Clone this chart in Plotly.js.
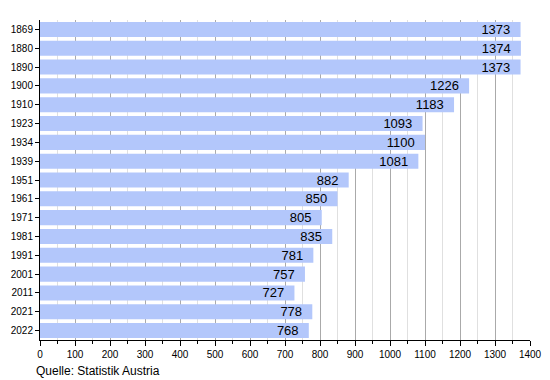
<!DOCTYPE html>
<html><head><meta charset="utf-8">
<script src="https://cdn.plot.ly/plotly-3.0.1.min.js"></script>
<style>body{margin:0;background:#fff}#c{width:550px;height:380px}</style>
</head><body><div id="c"></div>
<script>
const years = ["1869","1880","1890","1900","1910","1923","1934","1939","1951","1961","1971","1981","1991","2001","2011","2021","2022"];
const population = [1373,1374,1373,1226,1183,1093,1100,1081,882,850,805,835,781,757,727,778,768];
const sourceText = "Quelle: Statistik Austria";

Plotly.newPlot('c', [{
  type: 'bar', orientation: 'h',
  y: years, x: population,
  text: population.map(v => String(v) + '\u00a0\u00a0'),
  textposition: 'inside', insidetextanchor: 'end', constraintext: 'none',
  textfont: {family: '"Liberation Sans", Arial, sans-serif', size: 13, color: '#000'},
  marker: {color: '#b3c7fb', line: {width: 0}},
  hoverinfo: 'none', cliponaxis: false
}], {
  width: 550, height: 380,
  margin: {l: 40, r: 20, t: 20, b: 40},
  paper_bgcolor: '#fff', plot_bgcolor: '#fff',
  bargap: 0.2,
  uniformtext: {mode: false},
  font: {family: '"Liberation Sans", Arial, sans-serif', size: 10, color: '#000'},
  xaxis: {
    range: [0, 1400], dtick: 100, tick0: 0,
    showgrid: true, gridcolor: '#aaaaaa', gridwidth: 1,
    ticks: 'outside', ticklen: 5, tickcolor: '#000',
    showline: true, linecolor: '#000', linewidth: 1,
    zeroline: false, fixedrange: true,
    minor: {dtick: 50, showgrid: true, gridcolor: '#e0e0e0', ticks: 'outside', ticklen: 3, tickcolor: '#000'}
  },
  yaxis: {
    type: 'category', autorange: 'reversed',
    ticks: 'outside', ticklen: 4, tickcolor: '#000',
    showline: true, linecolor: '#000', linewidth: 1,
    showgrid: false, zeroline: false, fixedrange: true
  },
  annotations: [{
    text: sourceText, xref: 'paper', yref: 'paper',
    x: -0.012, y: -0.07, xanchor: 'left', yanchor: 'top', showarrow: false,
    font: {size: 12, color: '#000'}
  }],
  showlegend: false
}, {displayModeBar: false, staticPlot: true});
</script></body></html>
